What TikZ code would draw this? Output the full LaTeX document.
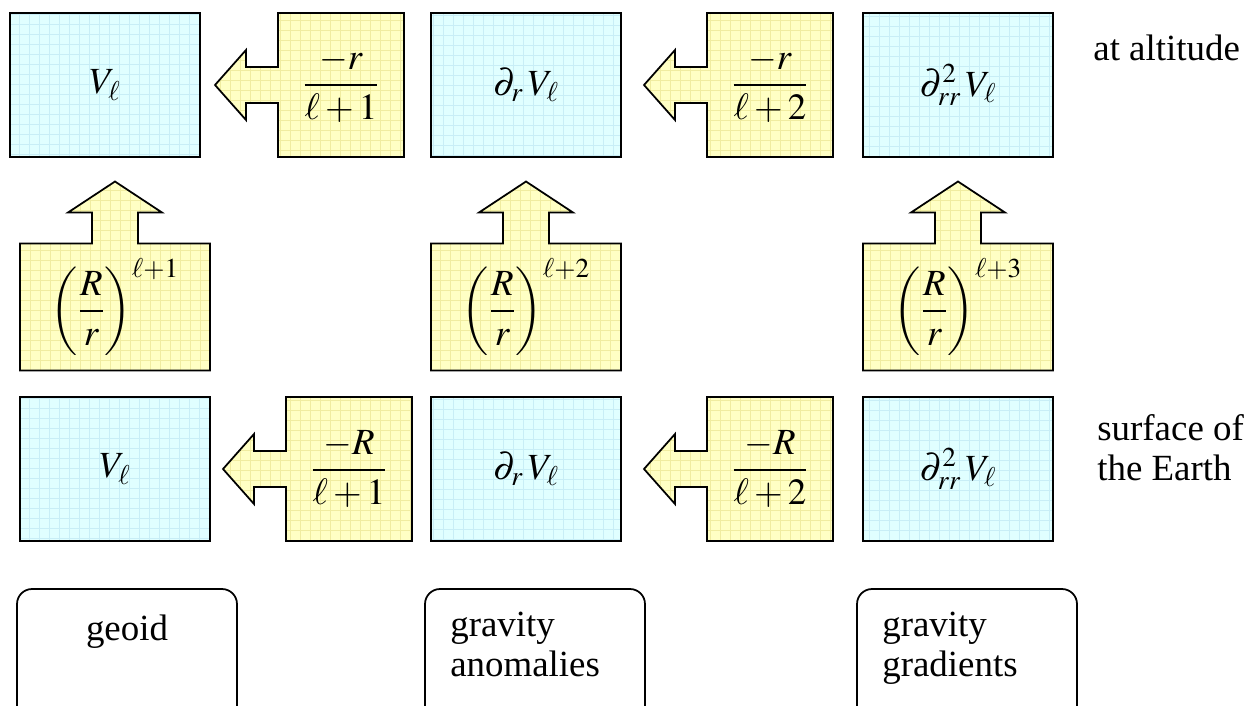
\documentclass[tikz,border=0pt]{standalone}
\usepackage{amsmath}
\usepackage{mathptmx}
\usepackage[no-math]{fontspec}
\setmainfont{Liberation Serif}
\usetikzlibrary{positioning,calc,backgrounds}

\definecolor{quantfill}{RGB}{224,255,255}
\definecolor{quantgrid}{RGB}{200,238,246}
\definecolor{factorfill}{RGB}{255,255,196}
\definecolor{factorgrid}{RGB}{240,236,160}

\begin{document}
\begin{tikzpicture}[
  x=0.02cm, y=-0.02cm,
  every node/.style={font=\fontsize{21}{22.7}\selectfont},
  gridded/.style={path picture={\draw[#1, line width=0.3pt] (path picture bounding box.south west) grid[step=0.2cm] (path picture bounding box.north east);}},
  quant/.style={rectangle, draw, line width=1pt, fill=quantfill, gridded=quantgrid, minimum width=3.8cm, minimum height=2.88cm, outer sep=0pt},
  factor/.style={rectangle, minimum width=2.52cm, minimum height=2.88cm, outer sep=0pt},
  scalefac/.style={rectangle, minimum width=3.8cm, minimum height=2.54cm, outer sep=0pt},
  factorshape/.style={draw, line width=1pt, fill=factorfill, gridded=factorgrid, line join=miter},
  catbox/.style={rectangle, rounded corners=0.3cm, draw, line width=1pt, minimum width=4.4cm, minimum height=2.84cm},
  cattext/.style={align=left, inner sep=0pt}
]
  \useasboundingbox (0,0) rectangle (1260,706);

  % at altitude
  \node[quant] (vtop) at (105,85) {$V_{\ell}$};
  \node[factor] (ftop1) at (341,85) {$\dfrac{-r}{\ell+1}$};
  \node[quant] (dvtop) at (526,85) {$\partial_r\, V_{\ell}$};
  \node[factor] (ftop2) at (770,85) {$\dfrac{-r}{\ell+2}$};
  \node[quant] (ddvtop) at (958,85) {$\partial^2_{rr}\, V_{\ell}$};
  \node[anchor=west, inner sep=0pt] (alt) at (1093,48) {at altitude};

  % upward continuation
  \node[scalefac] (up1) at (115,307) {$\left(\dfrac{R}{r}\right)^{\ell+1}$};
  \node[scalefac] (up2) at (526,307) {$\left(\dfrac{R}{r}\right)^{\ell+2}$};
  \node[scalefac] (up3) at (958,307) {$\left(\dfrac{R}{r}\right)^{\ell+3}$};

  % surface of the Earth
  \node[quant] (vsurf) at (115,469) {$V_{\ell}$};
  \node[factor] (fsurf1) at (349,469) {$\dfrac{-R}{\ell+1}$};
  \node[quant] (dvsurf) at (526,469) {$\partial_r\, V_{\ell}$};
  \node[factor] (fsurf2) at (770,469) {$\dfrac{-R}{\ell+2}$};
  \node[quant] (ddvsurf) at (958,469) {$\partial^2_{rr}\, V_{\ell}$};
  \node[anchor=west, align=left, inner sep=0pt] (surf) at (1097,448) {surface of\\the Earth};

  % observables
  \node[catbox] (geoid) at (127,660) {};
  \node[catbox] (anom) at (535,660) {};
  \node[catbox] (grad) at (967,660) {};
  \node[cattext, anchor=base] (geoidtxt) at (127,640) {geoid};
  \node[cattext, anchor=north west] (anomtxt) at (450,612) {gravity\\anomalies};
  \node[cattext, anchor=north west] (gradtxt) at (882,612) {gravity\\gradients};

  \begin{scope}[on background layer]
    \foreach \f in {ftop1,ftop2,fsurf1,fsurf2}
      \draw[factorshape] (\f.north west) -- (\f.north east) -- (\f.south east) -- (\f.south west)
        -- ($(\f.west)+(0,18)$) -- ++(-32,0) -- ++(0,17) -- ($(\f.west)+(-63,0)$)
        -- ($(\f.west)+(-32,-35)$) -- ++(0,17) -- ($(\f.west)+(0,-18)$) -- cycle;
    \foreach \f in {up1,up2,up3}
      \draw[factorshape] (\f.south west) -- (\f.north west) -- ($(\f.north)+(-23,0)$) -- ++(0,-31)
        -- ++(-24,0) -- ($(\f.north)+(0,-62)$) -- ($(\f.north)+(47,-31)$) -- ++(-24,0)
        -- ($(\f.north)+(23,0)$) -- (\f.north east) -- (\f.south east) -- cycle;
  \end{scope}
\end{tikzpicture}
\end{document}
